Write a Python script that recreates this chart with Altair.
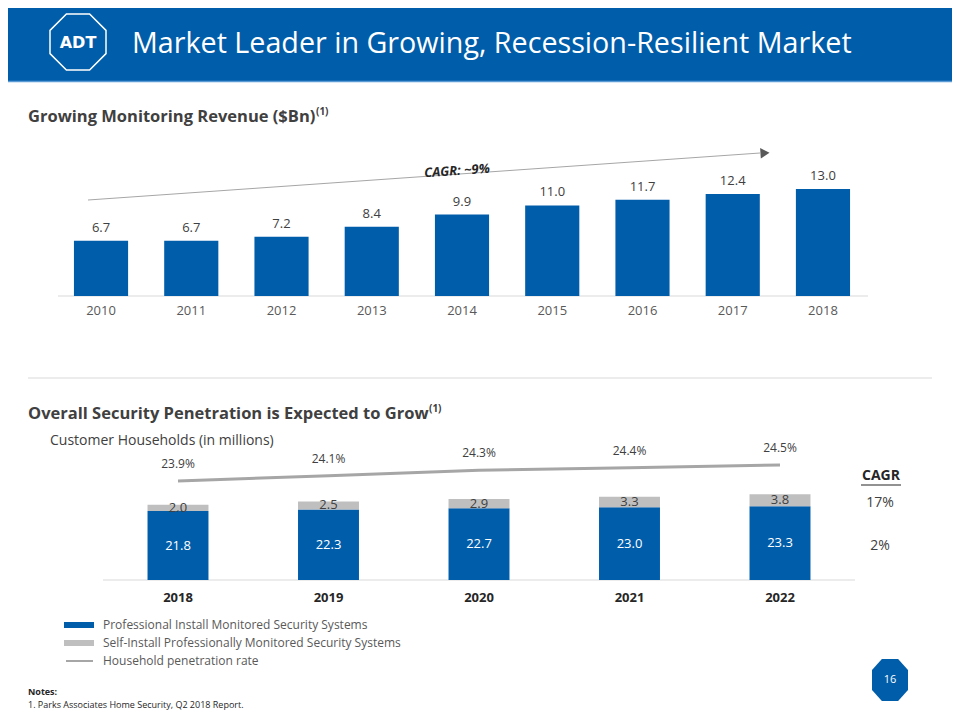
import altair as alt
import pandas as pd

# ---------------- data ----------------
top_years = ["2010", "2011", "2012", "2013", "2014", "2015", "2016", "2017", "2018"]
top_revenue = [6.7, 6.7, 7.2, 8.4, 9.9, 11.0, 11.7, 12.4, 13.0]

bot_years = ["2018", "2019", "2020", "2021", "2022"]
pro_install = [21.8, 22.3, 22.7, 23.0, 23.3]
self_install = [2.0, 2.5, 2.9, 3.3, 3.8]
penetration = [23.9, 24.1, 24.3, 24.4, 24.5]
segments = ["Professional Install Monitored Security Systems",
            "Self-Install Professionally Monitored Security Systems"]
line_label = "Household penetration rate"
cagr_values = ["17%", "2%"]

BLUE = "#005DAA"
GRAY = "#BFBFBF"
LINEGRAY = "#A6A6A6"
DARK = "#404040"
FONT = "Open Sans"

W, H = 944, 704
ONE = alt.Data(values=[{}])

top_df = pd.DataFrame({"year": top_years, "value": top_revenue})
bot_df = pd.DataFrame({
    "year": bot_years * 2,
    "segment": [segments[0]] * 5 + [segments[1]] * 5,
    "order": [0] * 5 + [1] * 5,
    "value": pro_install + self_install,
})
pen_df = pd.DataFrame({"year": bot_years, "pen": penetration})

# scales (pixel ranges inside the single canvas)
x_top = alt.Scale(domain=top_years, range=[47.9, 860.1], paddingInner=0.4, paddingOuter=0.2)
y_top = alt.Scale(domain=[0, 13], range=[288, 181], nice=False, zero=True)
x_bot = alt.Scale(domain=bot_years, range=[94.75, 847.25], paddingInner=0.595, paddingOuter=0.2975)
y_bot = alt.Scale(domain=[0, 30], range=[572, 477.05], nice=False, zero=True)
y_pen = alt.Scale(domain=[23.9, 24.5], range=[473, 457], nice=False, zero=False)


def txt(text, x, y, size=13, color=DARK, weight="normal", align="left",
        font=FONT, style="normal", angle=0):
    return alt.Chart(ONE).mark_text(
        text=text, align=align, baseline="middle", fontSize=size, font=font,
        fontWeight=weight, fontStyle=style, color=color, angle=angle
    ).encode(x=alt.value(x), y=alt.value(y))


def rule(x, x2, y, y2, color, width=1):
    return alt.Chart(ONE).mark_rule(color=color, strokeWidth=width).encode(
        x=alt.value(x), x2=alt.value(x2), y=alt.value(y), y2=alt.value(y2))


def box(x, x2, y, y2, color):
    return alt.Chart(ONE).mark_rect(color=color).encode(
        x=alt.value(x), x2=alt.value(x2), y=alt.value(y), y2=alt.value(y2))


OCT = "M-0.414,-1L0.414,-1L1,-0.414L1,0.414L0.414,1L-0.414,1L-1,0.414L-1,-0.414Z"
OCT_TALL = "M-0.45,-1.17L0.45,-1.17L1,-0.55L1,0.55L0.45,1.17L-0.45,1.17L-1,0.55L-1,-0.55Z"

layers = []

# ---------- header ----------
layers.append(box(0, W, 0, 73, BLUE))
layers.append(rule(0, W, 73.5, 73.5, "#5B9BD5", 1.5))
layers.append(alt.Chart(ONE).mark_point(shape=OCT, size=3136, filled=False,
                                        stroke="white", strokeWidth=1.5, opacity=1)
              .encode(x=alt.value(70), y=alt.value(34)))
layers.append(txt("ADT", 70, 35, size=16, color="white", weight="bold",
                  align="center", font="DejaVu Sans"))
layers.append(txt("Market Leader in Growing, Recession-Resilient Market", 124, 36,
                  size=28.7, color="white"))

# ---------- top section ----------
layers.append(txt("Growing Monitoring Revenue ($Bn)", 20, 109, size=16.5, weight="bold"))
layers.append(txt("(1)", 308, 104, size=10, weight="bold"))

# CAGR arrow
layers.append(rule(80, 752, 192, 145, LINEGRAY, 1))
layers.append(alt.Chart(ONE).mark_point(shape="triangle-right", size=110, filled=True,
                                        color="#595959", opacity=1, angle=356)
              .encode(x=alt.value(757), y=alt.value(145)))
layers.append(txt("CAGR: ~9%", 449, 163, size=13, color="#262626", weight="bold",
                  align="center", style="italic", angle=356))

layers.append(rule(50, 860, 288, 288, "#D9D9D9", 1))

layers.append(alt.Chart(top_df).mark_bar(color=BLUE).encode(
    x=alt.X("year:N", scale=x_top, axis=None),
    y=alt.Y("value:Q", scale=y_top, axis=None)))
layers.append(alt.Chart(top_df).mark_text(fontSize=13, font=FONT, color=DARK, dy=-13).encode(
    x=alt.X("year:N", scale=x_top, axis=None),
    y=alt.Y("value:Q", scale=y_top, axis=None),
    text=alt.Text("value:Q", format=".1f")))
layers.append(alt.Chart(top_df).mark_text(fontSize=13, font=FONT, color="#595959").encode(
    x=alt.X("year:N", scale=x_top, axis=None),
    y=alt.value(303),
    text="year:N"))

# separator
layers.append(rule(20, 924, 370, 370, "#D9D9D9", 1))

# ---------- bottom section ----------
layers.append(txt("Overall Security Penetration is Expected to Grow", 20, 406, size=16.5, weight="bold"))
layers.append(txt("(1)", 421, 401, size=10, weight="bold"))
layers.append(txt("Customer Households (in millions)", 42, 433, size=14))

layers.append(rule(95, 847, 572, 572, "#D9D9D9", 1))

stacked = alt.Chart(bot_df).transform_stack(
    stack="value", groupby=["year"], as_=["v0", "v1"], sort=[alt.SortField("order")]
).transform_calculate(mid="(datum.v0 + datum.v1) / 2")

layers.append(stacked.mark_bar().encode(
    x=alt.X("year:N", scale=x_bot, axis=None),
    y=alt.Y("v0:Q", scale=y_bot, axis=None),
    y2="v1:Q",
    color=alt.Color("segment:N", scale=alt.Scale(domain=segments, range=[BLUE, GRAY]), legend=None)))
layers.append(stacked.mark_text(fontSize=13, font=FONT).encode(
    x=alt.X("year:N", scale=x_bot, axis=None),
    y=alt.Y("mid:Q", scale=y_bot, axis=None),
    text=alt.Text("value:Q", format=".1f"),
    color=alt.Color("segment:N", scale=alt.Scale(domain=segments, range=["white", DARK]), legend=None)))
layers.append(alt.Chart(pen_df).mark_text(fontSize=13, font=FONT, fontWeight="bold", color="#262626").encode(
    x=alt.X("year:N", scale=x_bot, axis=None),
    y=alt.value(590),
    text="year:N"))

# penetration line
layers.append(alt.Chart(pen_df).mark_line(color=LINEGRAY, strokeWidth=3).encode(
    x=alt.X("year:N", scale=x_bot, axis=None),
    y=alt.Y("pen:Q", scale=y_pen, axis=None)))
layers.append(alt.Chart(pen_df).transform_calculate(
    lab="format(datum.pen, '.1f') + '%'"
).mark_text(fontSize=12, font=FONT, color=DARK, dy=-17).encode(
    x=alt.X("year:N", scale=x_bot, axis=None),
    y=alt.Y("pen:Q", scale=y_pen, axis=None),
    text="lab:N"))

# right-hand CAGR column
layers.append(txt("CAGR", 873, 468, size=14, color="#262626", weight="bold", align="center"))
layers.append(rule(853, 893, 477, 477, "#262626", 1.2))
layers.append(txt(cagr_values[0], 872, 495, size=14, align="center"))
layers.append(txt(cagr_values[1], 872, 538, size=14, align="center"))

# legend
layers.append(box(56, 86, 614, 620, BLUE))
layers.append(txt(segments[0], 95, 617, size=12, color="#595959"))
layers.append(box(56, 86, 632, 638, GRAY))
layers.append(txt(segments[1], 95, 635, size=12, color="#595959"))
layers.append(rule(58, 85, 653, 653, LINEGRAY, 2))
layers.append(txt(line_label, 95, 653, size=12, color="#595959"))

# page badge
layers.append(alt.Chart(ONE).mark_point(shape=OCT_TALL, size=1296, filled=True,
                                        color=BLUE, opacity=1)
              .encode(x=alt.value(882), y=alt.value(672)))
layers.append(txt("16", 882, 672, size=11, color="white", align="center"))

# notes
layers.append(txt("Notes:", 20, 684, size=9, color="#262626", weight="bold"))
layers.append(txt("1.  Parks Associates Home Security, Q2 2018 Report.", 20, 697, size=9, color="#262626"))

chart = alt.layer(*layers).resolve_scale(
    x="independent", y="independent", color="independent"
).properties(
    width=W, height=H, autosize="none", padding=0
).configure_view(stroke=None)

chart.save("out.html", embed_options={"renderer": "svg", "actions": False})
